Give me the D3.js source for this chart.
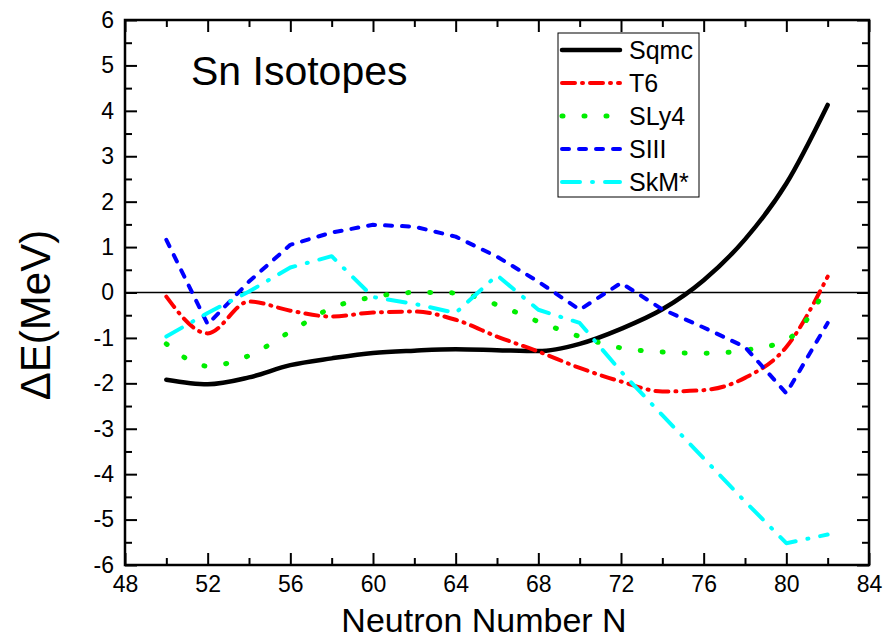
<!DOCTYPE html>
<html>
<head>
<meta charset="utf-8">
<script src="https://cdn.jsdelivr.net/npm/d3@7"></script>
<style>
  body { margin: 0; background: #fff; }
  svg text { font-family: "Liberation Sans", Arial, sans-serif; fill: #000; }
</style>
</head>
<body>
<div id="chart"></div>
<script>
// Sn isotopes: Delta E vs neutron number
const neutrons = [50, 52, 54, 56, 58, 60, 62, 64, 66, 68, 70, 72, 74, 76, 78, 80, 82];
const sqmc = [-1.92, -2.02, -1.87, -1.6, -1.45, -1.33, -1.28, -1.25, -1.27, -1.29, -1.13, -0.8, -0.37, 0.27, 1.17, 2.4, 4.13];
const t6 = [-0.09, -0.9, -0.2, -0.4, -0.53, -0.44, -0.42, -0.6, -0.97, -1.3, -1.66, -1.96, -2.18, -2.15, -1.88, -1.2, 0.35];
const sly4 = [-1.13, -1.62, -1.39, -0.86, -0.34, -0.1, 0.0, -0.01, -0.27, -0.64, -0.97, -1.22, -1.31, -1.34, -1.27, -1.05, 0.15];
const siii = [1.16, -0.7, 0.24, 1.05, 1.32, 1.49, 1.45, 1.23, 0.79, 0.24, -0.38, 0.21, -0.37, -0.77, -1.2, -2.22, -0.67];
const skm = [-0.97, -0.45, 0.02, 0.55, 0.8, -0.1, -0.25, -0.45, 0.38, -0.38, -0.67, -1.74, -2.7, -3.65, -4.6, -5.52, -5.33];

const xTicks = [48, 52, 56, 60, 64, 68, 72, 76, 80, 84];
const yTicks = [-6, -5, -4, -3, -2, -1, 0, 1, 2, 3, 4, 5, 6];

const series = [
  { name: "Sqmc", values: sqmc, color: "#000000", dash: null, width: 4.5, curve: d3.curveMonotoneX },
  { name: "T6", values: t6, color: "#ff0000", dash: "13,7,1,7", width: 4, curve: d3.curveMonotoneX },
  { name: "SLy4", values: sly4, color: "#00ee00", dash: "1,21", width: 5, curve: d3.curveMonotoneX },
  { name: "SIII", values: siii, color: "#0000ff", dash: "7,10", width: 4, curve: d3.curveLinear },
  { name: "SkM*", values: skm, color: "#00ffff", dash: "18,12,1,12", width: 4, curve: d3.curveLinear }
];

const width = 888, height = 641;
const svg = d3.select("#chart").append("svg")
  .attr("width", width)
  .attr("height", height);

const x = d3.scaleLinear().domain([48, 84]).range([125, 869]);
const y = d3.scaleLinear().domain([-6, 6]).range([565, 20]);

// zero line
svg.append("line")
  .attr("x1", x(48)).attr("x2", x(84))
  .attr("y1", y(0)).attr("y2", y(0))
  .attr("stroke", "#000").attr("stroke-width", 1.3);

// data lines
series.forEach(s => {
  const line = d3.line()
    .x((d, i) => x(neutrons[i]))
    .y(d => y(d))
    .curve(s.curve);
  svg.append("path")
    .datum(s.values)
    .attr("d", line)
    .attr("fill", "none")
    .attr("stroke", s.color)
    .attr("stroke-width", s.width)
    .attr("stroke-linecap", "round")
    .attr("stroke-linejoin", "round")
    .attr("stroke-dasharray", s.dash);
});

// axes, ticks point inward on all sides
const xMinor = d3.range(50, 84, 4);
const yMinor = d3.range(-5.5, 6, 1);
const plain = d => String(d);

function styleAxis(g) {
  g.select(".domain").remove();
  g.selectAll(".tick line").attr("stroke", "#000").attr("stroke-width", 2);
  g.selectAll("text").style("font-size", "23px").attr("fill", "#000");
}

svg.append("g").attr("transform", `translate(0,${y(-6)})`)
  .call(d3.axisBottom(x).tickValues(xTicks).tickSize(-12).tickPadding(11).tickFormat(plain))
  .call(styleAxis);
svg.append("g").attr("transform", `translate(0,${y(-6)})`)
  .call(d3.axisBottom(x).tickValues(xMinor).tickSize(-7).tickFormat(""))
  .call(styleAxis);
svg.append("g").attr("transform", `translate(0,${y(6)})`)
  .call(d3.axisTop(x).tickValues(xTicks).tickSize(-12).tickFormat(""))
  .call(styleAxis);
svg.append("g").attr("transform", `translate(0,${y(6)})`)
  .call(d3.axisTop(x).tickValues(xMinor).tickSize(-7).tickFormat(""))
  .call(styleAxis);

svg.append("g").attr("transform", `translate(${x(48)},0)`)
  .call(d3.axisLeft(y).tickValues(yTicks).tickSize(-12).tickPadding(11).tickFormat(plain))
  .call(styleAxis);
svg.append("g").attr("transform", `translate(${x(48)},0)`)
  .call(d3.axisLeft(y).tickValues(yMinor).tickSize(-7).tickFormat(""))
  .call(styleAxis);
svg.append("g").attr("transform", `translate(${x(84)},0)`)
  .call(d3.axisRight(y).tickValues(yTicks).tickSize(-12).tickFormat(""))
  .call(styleAxis);
svg.append("g").attr("transform", `translate(${x(84)},0)`)
  .call(d3.axisRight(y).tickValues(yMinor).tickSize(-7).tickFormat(""))
  .call(styleAxis);

// frame
svg.append("rect")
  .attr("x", x(48)).attr("y", y(6))
  .attr("width", x(84) - x(48)).attr("height", y(-6) - y(6))
  .attr("fill", "none").attr("stroke", "#000").attr("stroke-width", 2.5);

// titles
svg.append("text")
  .attr("x", 191).attr("y", 85)
  .style("font-size", "41px")
  .text("Sn Isotopes");

svg.append("text")
  .attr("x", (x(48) + x(84)) / 2 - 13).attr("y", 632)
  .attr("text-anchor", "middle")
  .style("font-size", "34px")
  .text("Neutron Number N");

svg.append("text")
  .attr("transform", `translate(50,${315}) rotate(-90)`)
  .attr("text-anchor", "middle")
  .style("font-size", "42px")
  .text("\u0394E(MeV)");

// legend
const legend = svg.append("g");
legend.append("rect")
  .attr("x", 558).attr("y", 33)
  .attr("width", 141).attr("height", 164)
  .attr("fill", "#fff").attr("stroke", "#000").attr("stroke-width", 1);

series.forEach((s, i) => {
  const ly = 50 + i * 33;
  legend.append("line")
    .attr("x1", 562).attr("x2", 620)
    .attr("y1", ly).attr("y2", ly)
    .attr("stroke", s.color)
    .attr("stroke-width", s.width)
    .attr("stroke-linecap", "round")
    .attr("stroke-dasharray", s.dash);
  legend.append("text")
    .attr("x", 629).attr("y", ly + 9)
    .style("font-size", "25px")
    .text(s.name);
});
</script>
</body>
</html>
